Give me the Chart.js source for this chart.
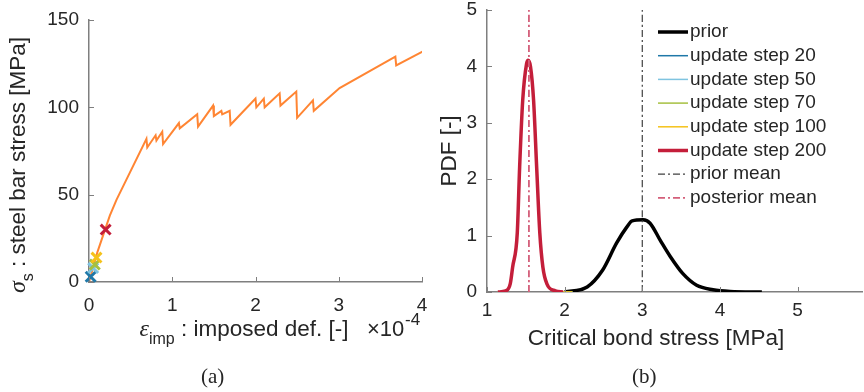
<!DOCTYPE html>
<html>
<head>
<meta charset="utf-8">
<script src="https://cdn.jsdelivr.net/npm/chart.js@4.4.1/dist/chart.umd.min.js"></script>
<style>
  html, body { margin: 0; padding: 0; background: #fff; width: 864px; height: 392px; overflow: hidden; position: relative; }
  .box { position: absolute; top: -20px; width: 432px; height: 412px; }
  .cap { position: absolute; top: 364px; font: 21px "Liberation Serif", serif; color: #262626; }
</style>
</head>
<body>
<div class="box" style="left:0"><canvas id="stressChart" width="432" height="412"></canvas></div>
<div class="box" style="left:432px"><canvas id="pdfChart" width="432" height="412"></canvas></div>
<div class="cap" style="left:201px">(a)</div>
<div class="cap" style="left:632px">(b)</div>
<script>
// (a) steel bar stress vs imposed deformation (x in units of 1e-4)
const strain = [0, 0.03, 0.06, 0.1, 0.15, 0.2, 0.25, 0.33, 0.69, 0.70, 0.80, 0.81, 0.88, 0.89, 1.08, 1.09, 1.30, 1.31, 1.49, 1.50, 1.59, 1.60, 1.69, 1.70, 2.00, 2.01, 2.10, 2.11, 2.29, 2.30, 2.49, 2.50, 2.69, 2.70, 3.01, 3.68, 3.69, 4.01];
const stress = [0, 5, 10, 17, 24, 31, 38, 47, 82, 77, 84, 81, 86, 79, 91, 88, 96, 89, 101, 95, 98, 96, 98, 90, 105, 100, 105, 100, 108, 101, 109, 94, 104, 98, 111, 129, 124, 132];

const stepLabels = ["update step 20", "update step 50", "update step 70", "update step 100", "update step 200"];
const stepColors = ["#1f78a8", "#7fc4e0", "#a6c040", "#f5c21a", "#c41e3a"];
const stepStrain = [0.02, 0.05, 0.07, 0.09, 0.20];
const stepStress = [3, 8, 10, 14, 30];

// (b) PDFs of critical bond stress
const priorX = [2.0, 2.29, 2.49, 2.67, 2.80, 2.87, 3.01, 3.10, 3.23, 3.36, 3.52, 3.70, 3.91, 4.13, 4.54];
const priorPdf = [0, 0.09, 0.39, 0.87, 1.15, 1.26, 1.28, 1.22, 0.92, 0.63, 0.33, 0.12, 0.04, 0.01, 0];
const postX = [1.14, 1.24, 1.30, 1.33, 1.39, 1.42, 1.46, 1.51, 1.53, 1.56, 1.60, 1.64, 1.68, 1.72, 1.77, 1.88, 1.98];
const postPdf = [0, 0.02, 0.15, 0.44, 1.05, 2.2, 3.4, 4.05, 4.11, 4.0, 3.4, 2.2, 1.05, 0.44, 0.15, 0.02, 0];
const earlyX = [1.14, 1.24, 1.30, 1.33, 1.39, 1.42, 1.46, 1.51, 1.53, 1.56, 1.60, 1.64, 1.68, 1.72, 1.77, 1.88, 1.98, 2.10];
const earlyPdf = [0, 0.02, 0.15, 0.44, 1.05, 2.2, 3.4, 4.05, 4.12, 4.0, 3.4, 2.2, 1.05, 0.44, 0.15, 0.02, 0, 0];
const priorMean = 3.0;
const posteriorMean = 1.54;

const ink = "#262626";
const axisGrey = "#7f7f7f";
const sans = '"Liberation Sans", Arial, sans-serif';
const serif = '"Liberation Serif", serif';
const tickFont = { family: "Liberation Sans", size: 19 };

const pts = (xs, ys) => xs.map((x, i) => ({ x: x, y: ys[i] }));

function richText(ctx, parts, cx, cy, angle) {
  ctx.save();
  ctx.translate(cx, cy);
  ctx.rotate(angle || 0);
  ctx.textBaseline = "middle";
  ctx.fillStyle = ink;
  let total = 0;
  parts.forEach(p => { ctx.font = p.font; p.w = ctx.measureText(p.text).width; total += p.w; });
  let x = -total / 2;
  parts.forEach(p => { ctx.font = p.font; ctx.fillText(p.text, x, p.dy || 0); x += p.w; });
  ctx.restore();
}

function innerTicks(chart) {
  const ctx = chart.ctx, a = chart.chartArea;
  const sx = chart.scales.x, sy = chart.scales.y;
  ctx.save();
  ctx.strokeStyle = axisGrey;
  ctx.lineWidth = 1;
  sx.ticks.forEach(t => {
    const px = Math.round(sx.getPixelForValue(t.value)) + 0.5;
    ctx.beginPath(); ctx.moveTo(px, a.bottom); ctx.lineTo(px, a.bottom - 5); ctx.stroke();
  });
  sy.ticks.forEach(t => {
    const py = Math.round(sy.getPixelForValue(t.value)) + 0.5;
    ctx.beginPath(); ctx.moveTo(a.left, py); ctx.lineTo(a.left + 5, py); ctx.stroke();
  });
  ctx.restore();
}

function axis(min, max, step, pad, fit) {
  return {
    type: "linear",
    min: min,
    max: max,
    grid: { display: false, drawTicks: false },
    border: { display: true, color: axisGrey, width: 1.5 },
    ticks: { font: tickFont, color: ink, padding: pad, stepSize: step, maxRotation: 0, includeBounds: false },
    afterFit: s => {
      fit(s);
      s.paddingLeft = 0; s.paddingRight = 0; s.paddingTop = 0; s.paddingBottom = 0;
    }
  };
}

const stressDatasets = [{
  label: "stress",
  data: pts(strain, stress),
  showLine: true,
  borderColor: "#ff8533",
  borderWidth: 2,
  pointRadius: 0,
  tension: 0,
  order: 10
}];
stepLabels.forEach((lab, i) => {
  stressDatasets.push({
    label: lab,
    data: [{ x: stepStrain[i], y: stepStress[i] }],
    showLine: false,
    clip: false,
    pointStyle: "crossRot",
    pointRadius: 7,
    borderWidth: 3,
    borderColor: stepColors[i],
    backgroundColor: stepColors[i],
    order: 5 - i
  });
});

new Chart(document.querySelector("#stressChart"), {
  type: "scatter",
  data: { datasets: stressDatasets },
  options: {
    responsive: false,
    devicePixelRatio: 1,
    animation: false,
    layout: { padding: { top: 40, right: 7, left: 0, bottom: 0 } },
    plugins: { legend: { display: false }, tooltip: { enabled: false } },
    scales: {
      x: axis(0, 4, 1, 12, s => { s.height = 110; }),
      y: axis(0, 150, 50, 10, s => { s.width = 89; })
    }
  },
  plugins: [{
    id: "decorA",
    afterDraw(chart) {
      const ctx = chart.ctx;
      innerTicks(chart);
      richText(ctx, [
        { text: "\u03c3", font: "italic 24px " + serif },
        { text: "s", font: "16px " + sans, dy: 10 },
        { text: " : steel bar stress [MPa]", font: "22.5px " + sans }
      ], 19, 185, -Math.PI / 2);
      richText(ctx, [
        { text: "\u03b5", font: "italic 24px " + serif },
        { text: "imp", font: "16px " + sans, dy: 10 },
        { text: " : imposed def. [-]", font: "22.5px " + sans }
      ], 244, 350, 0);
      ctx.save();
      ctx.fillStyle = ink;
      ctx.textBaseline = "middle";
      ctx.font = "22px " + sans;
      ctx.fillText("\u00d710", 367, 350);
      ctx.font = "17px " + sans;
      ctx.fillText("-4", 405, 340);
      ctx.restore();
    }
  }]
});

const pdfDatasets = [
  { label: "prior", data: pts(priorX, priorPdf), borderColor: "#000000", borderWidth: 3.5, order: 7 }
];
stepLabels.forEach((lab, i) => {
  const last = i === stepLabels.length - 1;
  pdfDatasets.push({
    label: lab,
    data: last ? pts(postX, postPdf) : pts(earlyX, earlyPdf),
    borderColor: stepColors[i],
    borderWidth: last ? 3.5 : 1.5,
    order: 5 - i
  });
});
pdfDatasets.push(
  { label: "prior mean", data: [{ x: priorMean, y: 0 }, { x: priorMean, y: 5 }], borderColor: "#404040", borderWidth: 1.2, borderDash: [7, 3, 2, 3], order: -1 },
  { label: "posterior mean", data: [{ x: posteriorMean, y: 0 }, { x: posteriorMean, y: 5 }], borderColor: "#d45f7a", borderWidth: 1.8, borderDash: [7, 3, 2, 3], order: -2 }
);
pdfDatasets.forEach(d => {
  d.showLine = true;
  d.pointRadius = 0;
  d.cubicInterpolationMode = "monotone";
});

new Chart(document.querySelector("#pdfChart"), {
  type: "scatter",
  data: { datasets: pdfDatasets },
  options: {
    responsive: false,
    devicePixelRatio: 1,
    animation: false,
    layout: { padding: { top: 30, right: 2, left: 0, bottom: 0 } },
    plugins: { legend: { display: false }, tooltip: { enabled: false } },
    scales: {
      x: axis(1, 5.83, 1, 7, s => { s.height = 100; }),
      y: axis(0, 5, 1, 10, s => { s.width = 55; })
    }
  },
  plugins: [{
    id: "decorB",
    afterDraw(chart) {
      const ctx = chart.ctx;
      innerTicks(chart);
      richText(ctx, [{ text: "PDF [-]", font: "22.5px " + sans }], 18, 171, -Math.PI / 2);
      richText(ctx, [{ text: "Critical bond stress [MPa]", font: "22.5px " + sans }], 224, 359, 0);
      // legend inside the axes
      ctx.save();
      ctx.textBaseline = "middle";
      ctx.font = "19px " + sans;
      chart.data.datasets.forEach((d, i) => {
        const y = 52 + i * 23.7;
        ctx.strokeStyle = d.borderColor;
        ctx.lineWidth = Math.min(d.borderWidth, 4);
        ctx.setLineDash(d.borderDash || []);
        ctx.beginPath(); ctx.moveTo(226, y); ctx.lineTo(256, y); ctx.stroke();
        ctx.setLineDash([]);
        ctx.fillStyle = ink;
        ctx.fillText(d.label, 258, y);
      });
      ctx.restore();
    }
  }]
});
</script>
</body>
</html>
